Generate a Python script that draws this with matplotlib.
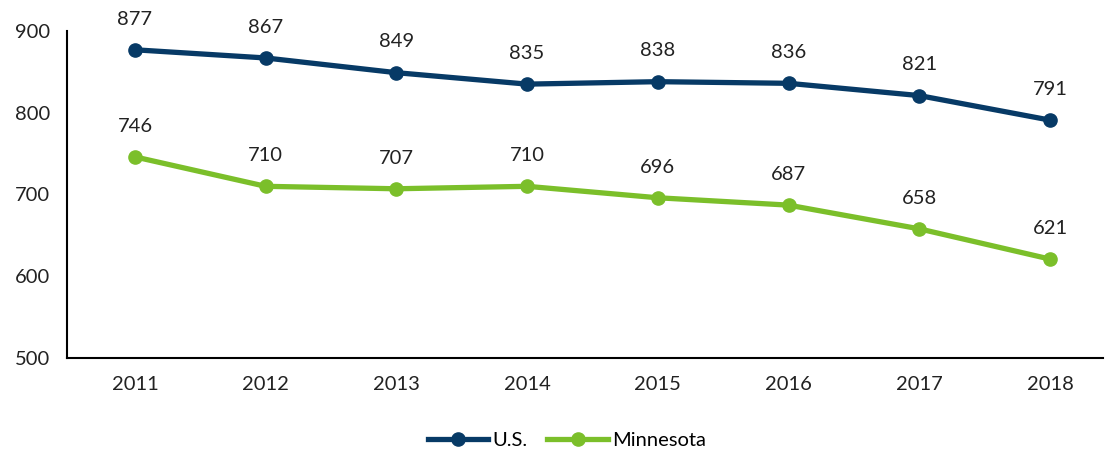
import matplotlib
matplotlib.use("Agg")
import matplotlib.pyplot as plt

years = ["2011", "2012", "2013", "2014", "2015", "2016", "2017", "2018"]
us = [877, 867, 849, 835, 838, 836, 821, 791]
mn = [746, 710, 707, 710, 696, 687, 658, 621]
yticks = [500, 600, 700, 800, 900]

plt.rcParams['font.family'] = ['Lato', 'DejaVu Sans']
navy = "#073a66"
green = "#7bbf2a"

fig = plt.figure(figsize=(11.07, 4.53), dpi=100)
ax = fig.add_axes([0.0605, 0.2097, 0.9359, 0.7219])
x = list(range(len(years)))
ax.plot(x, us, color=navy, lw=3.8, marker='o', ms=9.5, label="U.S.")
ax.plot(x, mn, color=green, lw=3.8, marker='o', ms=9.5, label="Minnesota")
for xi, v in zip(x, us):
    ax.annotate(str(v), (xi, v), xytext=(0, 16), textcoords='offset points',
                ha='center', va='bottom', fontsize=14.5, color='#222222')
for xi, v in zip(x, mn):
    ax.annotate(str(v), (xi, v), xytext=(0, 16), textcoords='offset points',
                ha='center', va='bottom', fontsize=14.5, color='#222222')

ax.set_ylim(500, 900)
ax.set_yticks(yticks)
ax.set_xticks(x)
ax.set_xticklabels(years)
ax.set_xlim(-0.52, 7.406)
ax.tick_params(axis='both', length=0, labelsize=14.5, colors='#222222')
ax.tick_params(axis='y', pad=12)
ax.tick_params(axis='x', pad=13)
for s in ['top', 'right']:
    ax.spines[s].set_visible(False)
for s in ['left', 'bottom']:
    ax.spines[s].set_linewidth(1.5)
    ax.spines[s].set_color('black')

fig.legend(loc='center', bbox_to_anchor=(0.512, 0.028), ncol=2, frameon=False,
           fontsize=14.5, handlelength=3.0, columnspacing=1.0, handletextpad=0.2)
fig.savefig("out.png", dpi=100)
